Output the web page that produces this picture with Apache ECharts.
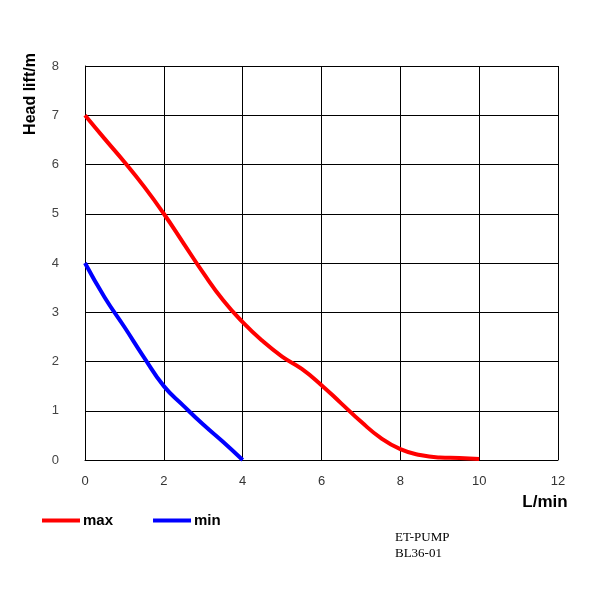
<!DOCTYPE html>
<html>
<head>
<meta charset="utf-8">
<script src="https://cdn.jsdelivr.net/npm/echarts@6/dist/echarts.min.js"></script>
<style>html,body{margin:0;padding:0;background:#fff}#c{width:600px;height:600px}</style>
</head>
<body>
<div id="c"></div>
<script>
var maxX = [0, 0.5, 1, 1.5, 2, 2.5, 3, 3.5, 4, 4.5, 5, 5.5, 6, 6.5, 7, 7.5, 8, 8.5, 9, 9.5, 10];
var maxY = [7, 6.52, 6.05, 5.55, 5.0, 4.4, 3.8, 3.25, 2.8, 2.42, 2.1, 1.85, 1.52, 1.15, 0.78, 0.45, 0.22, 0.1, 0.05, 0.04, 0.02];
var minX = [0, 0.5, 1, 1.5, 2, 2.5, 3, 3.5, 4];
var minY = [4, 3.3, 2.7, 2.08, 1.5, 1.1, 0.72, 0.37, 0];
var xTicks = [0, 2, 4, 6, 8, 10, 12];
var yTicks = [0, 1, 2, 3, 4, 5, 6, 7, 8];

function pairs(xs, ys) { return xs.map(function (x, i) { return [x, ys[i]]; }); }

var chart = echarts.init(document.getElementById('c'));
chart.setOption({
  animation: false,
  grid: { left: 85, right: 42, top: 66, bottom: 140 },
  xAxis: {
    type: 'value', min: xTicks[0], max: xTicks[xTicks.length - 1], interval: 2,
    axisLine: { show: true, lineStyle: { color: '#000', width: 1 } },
    axisTick: { show: false },
    axisLabel: { margin: 15, fontFamily: 'Liberation Sans', fontSize: 13, color: '#333' },
    splitLine: { show: true, lineStyle: { color: '#000', width: 1 } }
  },
  yAxis: {
    type: 'value', min: yTicks[0], max: yTicks[yTicks.length - 1], interval: 1,
    axisLine: { show: true, lineStyle: { color: '#000', width: 1 } },
    axisTick: { show: false },
    axisLabel: { margin: 26, fontFamily: 'Liberation Sans', fontSize: 13, color: '#444' },
    splitLine: { show: true, lineStyle: { color: '#000', width: 1 } }
  },
  legend: {
    left: 37, top: 508, icon: 'rect', itemWidth: 38, itemHeight: 4, itemGap: 40,
    textStyle: { fontFamily: 'Liberation Sans', fontWeight: 'bold', fontSize: 15, color: '#000', padding: [0, 0, 0, -2] },
    data: ['max', 'min']
  },
  graphic: [
    { type: 'text', x: 31, y: 94, rotation: Math.PI / 2, style: { text: 'Head lift/m', font: 'bold 16px "Liberation Sans"', fill: '#000', align: 'center', verticalAlign: 'middle' } },
    { type: 'text', x: 545, y: 502, style: { text: 'L/min', font: 'bold 17px "Liberation Sans"', fill: '#000', align: 'center', verticalAlign: 'middle' } },
    { type: 'text', left: 395, top: 530, style: { text: 'ET-PUMP\nBL36-01', font: '13px "Liberation Serif"', fill: '#000', lineHeight: 16 } }
  ],
  series: [
    { name: 'max', type: 'line', smooth: true, showSymbol: false, lineStyle: { color: '#ff0000', width: 4 }, itemStyle: { color: '#ff0000' }, data: pairs(maxX, maxY) },
    { name: 'min', type: 'line', smooth: true, showSymbol: false, lineStyle: { color: '#0000ff', width: 4 }, itemStyle: { color: '#0000ff' }, data: pairs(minX, minY) }
  ]
});
</script>
</body>
</html>
